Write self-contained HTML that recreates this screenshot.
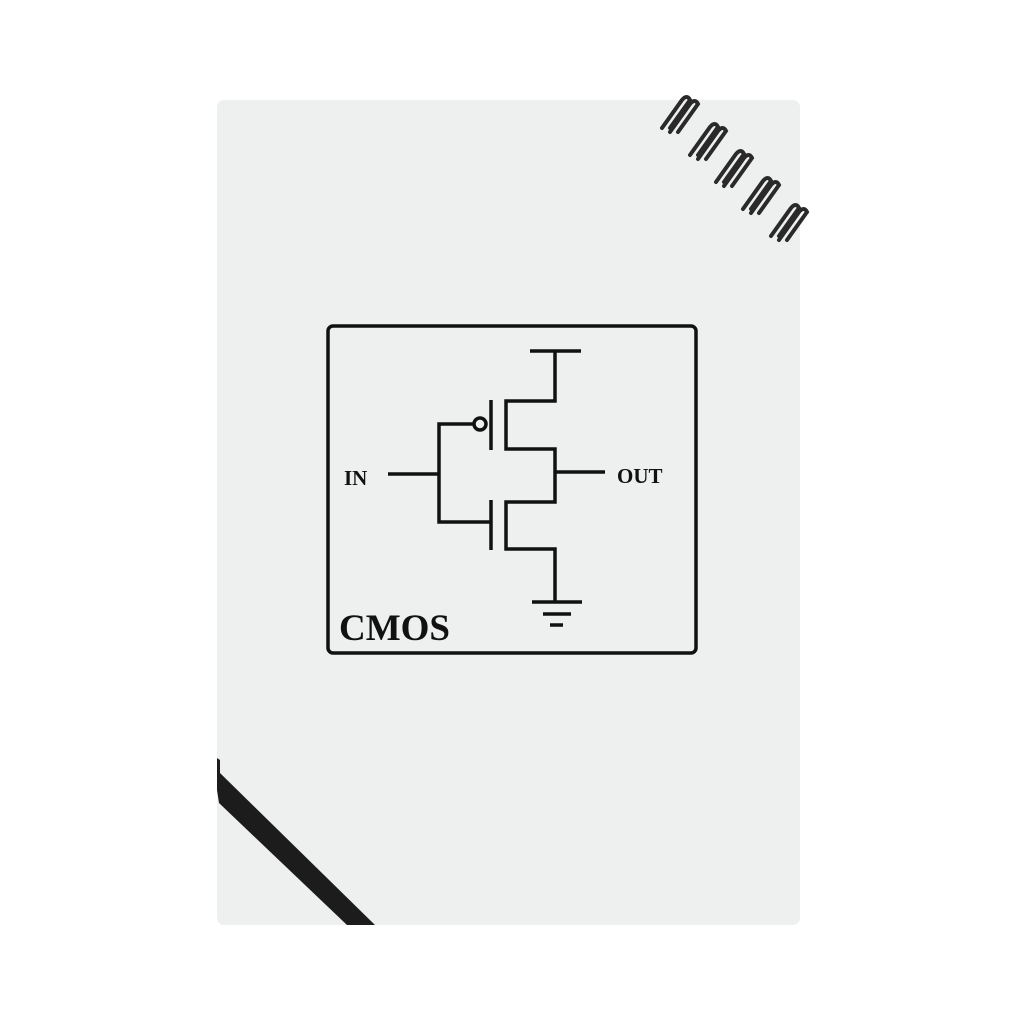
<!DOCTYPE html>
<html><head><style>
html,body{margin:0;padding:0;background:#fff;}
svg{display:block}
</style></head><body>
<svg width="1024" height="1024" viewBox="0 0 1024 1024" xmlns="http://www.w3.org/2000/svg">
<rect x="0" y="0" width="1024" height="1024" fill="#ffffff"/>
<rect x="217" y="100" width="583" height="825" rx="7" fill="#eeefef"/>
<!-- elastic band -->
<polygon points="217,758 220,760 220,773 375,925 347,925 219,803 217,790" fill="#1c1c1c"/>
<!-- rings -->
<g fill="none" stroke="#2a2a2a" stroke-width="4" stroke-linecap="round">
<g transform="translate(668,122)"><path d="M-6,6 L14,-22 Q19,-28 22,-22 L2,6"/><path d="M2,10 L22,-18 Q27,-24 30,-18 L10,10"/></g>
<g transform="translate(696,149)"><path d="M-6,6 L14,-22 Q19,-28 22,-22 L2,6"/><path d="M2,10 L22,-18 Q27,-24 30,-18 L10,10"/></g>
<g transform="translate(722,176)"><path d="M-6,6 L14,-22 Q19,-28 22,-22 L2,6"/><path d="M2,10 L22,-18 Q27,-24 30,-18 L10,10"/></g>
<g transform="translate(749,203)"><path d="M-6,6 L14,-22 Q19,-28 22,-22 L2,6"/><path d="M2,10 L22,-18 Q27,-24 30,-18 L10,10"/></g>
<g transform="translate(777,230)"><path d="M-6,6 L14,-22 Q19,-28 22,-22 L2,6"/><path d="M2,10 L22,-18 Q27,-24 30,-18 L10,10"/></g>
</g>
<!-- diagram -->
<g fill="none" stroke="#111" stroke-width="3.5">
<rect x="328" y="326" width="368" height="327" rx="5"/>
<path d="M530,351 H581 M555,351 V401 H506 V449 H555 V502 H506 V549 H555 V602"/>
<path d="M555,472 H605"/>
<path d="M532,602 H582 M543,614 H571 M550,625 H563"/>
<path d="M491,400 V450 M491,500 V550"/>
<circle cx="480" cy="424" r="6"/>
<path d="M474,424 H439 V522 H491 M388,474 H439"/>
</g>
<g font-family="Liberation Serif, serif" fill="#111" font-weight="bold">
<text x="344" y="485" font-size="21">IN</text>
<text x="617" y="483" font-size="21">OUT</text>
<text x="339" y="640" font-size="37">CMOS</text>
</g>
</svg>
</body></html>
